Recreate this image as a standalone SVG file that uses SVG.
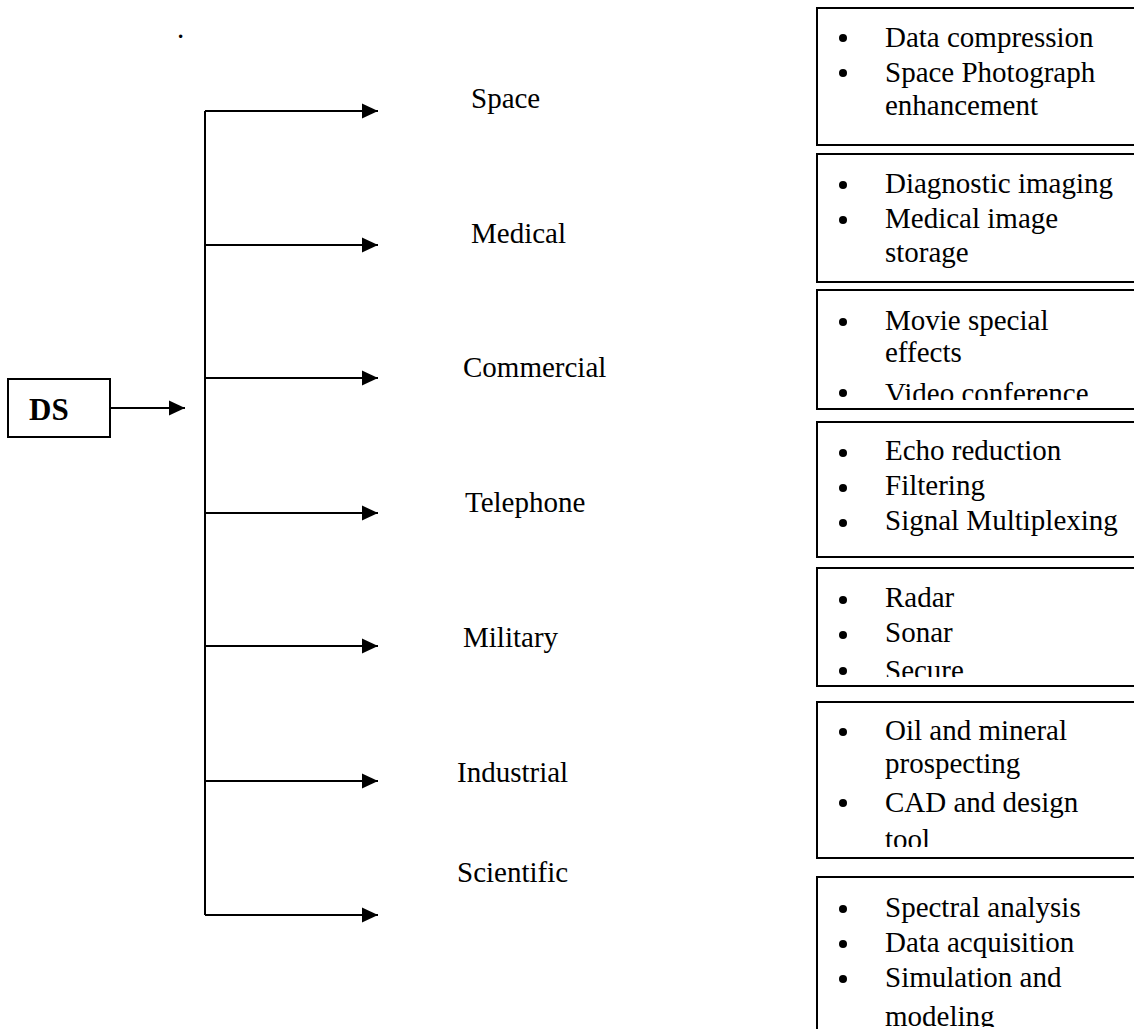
<svg xmlns="http://www.w3.org/2000/svg" width="1134" height="1029" viewBox="0 0 1134 1029">
  <style>
    .t { font-family: "Liberation Serif", "Times New Roman", serif; font-size: 29px; fill: #000; }
    .ds { font-family: "Liberation Serif", "Times New Roman", serif; font-size: 31px; font-weight: bold; fill: #000; }
    .box { fill: #fff; stroke: #000; stroke-width: 2; }
    .wire { fill: none; stroke: #000; stroke-width: 2; }
    .dot { fill: #000; }
  </style>
  <defs>
    <marker id="arrow" markerUnits="userSpaceOnUse" markerWidth="16" markerHeight="16" refX="16" refY="8" orient="auto">
      <path d="M0,0.5 L16,8 L0,15.5 Z" fill="#000"/>
    </marker>
    <!-- list texts that overflow their frame are cut off at the bottom -->
    <clipPath id="clipCommercial"><rect x="818" y="291" width="320" height="109"/></clipPath>
    <clipPath id="clipMilitary"><rect x="818" y="569" width="320" height="108"/></clipPath>
    <clipPath id="clipIndustrial"><rect x="818" y="703" width="320" height="144"/></clipPath>
    <clipPath id="clipScientific"><rect x="818" y="878" width="320" height="149"/></clipPath>
  </defs>

  <rect width="1134" height="1029" fill="#fff"/>

  <!-- stray full stop near the top -->
  <text class="t" x="177" y="38">.</text>

  <!-- source block -->
  <g id="node-ds">
    <rect class="box" x="8" y="379" width="102" height="58"/>
    <text class="ds" x="29" y="420">DS</text>
  </g>

  <!-- bus and branch arrows -->
  <g id="connectors">
    <path class="wire" d="M110,408 H185" marker-end="url(#arrow)"/>
    <path class="wire" d="M205,111 V915"/>
    <path class="wire" d="M205,111 H378" marker-end="url(#arrow)"/>
    <path class="wire" d="M205,245 H378" marker-end="url(#arrow)"/>
    <path class="wire" d="M205,378 H378" marker-end="url(#arrow)"/>
    <path class="wire" d="M205,513 H378" marker-end="url(#arrow)"/>
    <path class="wire" d="M205,646 H378" marker-end="url(#arrow)"/>
    <path class="wire" d="M205,781 H378" marker-end="url(#arrow)"/>
    <path class="wire" d="M205,915 H378" marker-end="url(#arrow)"/>
  </g>

  <!-- application areas -->
  <g id="node-space"><text class="t" x="471" y="108">Space</text></g>
  <g id="node-medical"><text class="t" x="471" y="243">Medical</text></g>
  <g id="node-commercial"><text class="t" x="463" y="377">Commercial</text></g>
  <g id="node-telephone"><text class="t" x="465" y="512">Telephone</text></g>
  <g id="node-military"><text class="t" x="463" y="647">Military</text></g>
  <g id="node-industrial"><text class="t" x="457" y="782">Industrial</text></g>
  <g id="node-scientific"><text class="t" x="457" y="882">Scientific</text></g>

  <!-- example lists -->
  <g id="list-space">
    <rect class="box" x="817" y="8" width="330" height="137"/>
    <circle class="dot" cx="843" cy="38" r="4"/>
    <circle class="dot" cx="843" cy="73" r="4"/>
    <text class="t" x="885" y="47">Data compression</text>
    <text class="t" x="885" y="82">Space Photograph</text>
    <text class="t" x="885" y="115">enhancement</text>
  </g>

  <g id="list-medical">
    <rect class="box" x="817" y="154" width="330" height="128"/>
    <circle class="dot" cx="843" cy="185" r="4"/>
    <circle class="dot" cx="843" cy="220" r="4"/>
    <text class="t" x="885" y="193">Diagnostic imaging</text>
    <text class="t" x="885" y="228">Medical image</text>
    <text class="t" x="885" y="262">storage</text>
  </g>

  <g id="list-commercial">
    <rect class="box" x="817" y="290" width="330" height="119"/>
    <g clip-path="url(#clipCommercial)">
      <circle class="dot" cx="843" cy="322" r="4"/>
      <circle class="dot" cx="843" cy="393" r="4"/>
      <text class="t" x="885" y="330">Movie special</text>
      <text class="t" x="885" y="362">effects</text>
      <text class="t" x="885" y="403">Video conference</text>
    </g>
  </g>

  <g id="list-telephone">
    <rect class="box" x="817" y="422" width="330" height="135"/>
    <circle class="dot" cx="843" cy="453" r="4"/>
    <circle class="dot" cx="843" cy="488" r="4"/>
    <circle class="dot" cx="843" cy="523" r="4"/>
    <text class="t" x="885" y="460">Echo reduction</text>
    <text class="t" x="885" y="495">Filtering</text>
    <text class="t" x="885" y="530">Signal Multiplexing</text>
  </g>

  <g id="list-military">
    <rect class="box" x="817" y="568" width="330" height="118"/>
    <g clip-path="url(#clipMilitary)">
      <circle class="dot" cx="843" cy="600" r="4"/>
      <circle class="dot" cx="843" cy="635" r="4"/>
      <circle class="dot" cx="843" cy="671" r="4"/>
      <text class="t" x="885" y="607">Radar</text>
      <text class="t" x="885" y="642">Sonar</text>
      <text class="t" x="885" y="680">Secure</text>
    </g>
  </g>

  <g id="list-industrial">
    <rect class="box" x="817" y="702" width="330" height="156"/>
    <g clip-path="url(#clipIndustrial)">
      <circle class="dot" cx="843" cy="732" r="4"/>
      <circle class="dot" cx="843" cy="803" r="4"/>
      <text class="t" x="885" y="740">Oil and mineral</text>
      <text class="t" x="885" y="773">prospecting</text>
      <text class="t" x="885" y="812">CAD and design</text>
      <text class="t" x="885" y="849">tool</text>
    </g>
  </g>

  <g id="list-scientific">
    <rect class="box" x="817" y="877" width="330" height="170"/>
    <g clip-path="url(#clipScientific)">
      <circle class="dot" cx="843" cy="909" r="4"/>
      <circle class="dot" cx="843" cy="944" r="4"/>
      <circle class="dot" cx="843" cy="979" r="4"/>
      <text class="t" x="885" y="917">Spectral analysis</text>
      <text class="t" x="885" y="952">Data acquisition</text>
      <text class="t" x="885" y="987">Simulation and</text>
      <text class="t" x="885" y="1026">modeling</text>
    </g>
  </g>
</svg>
